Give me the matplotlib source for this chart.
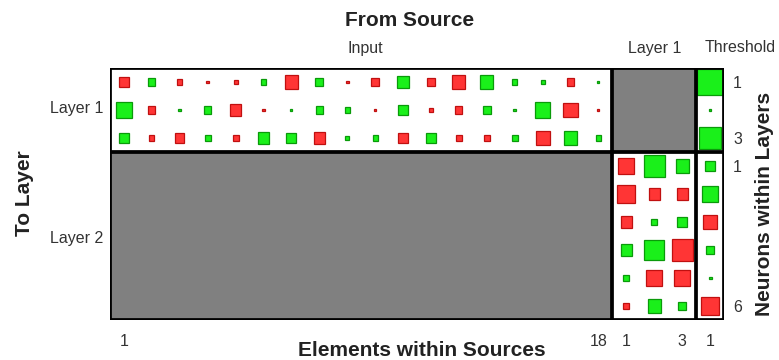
import numpy as np
import matplotlib
matplotlib.use("Agg")
import matplotlib.pyplot as plt
from matplotlib.patches import Rectangle

plt.rcParams['font.family'] = ['Liberation Sans', 'DejaVu Sans']

# Weights from the 18 inputs into the 3 neurons of layer 1
iw_layer1 = [
    [-0.48, 0.24, -0.12, -0.04, -0.08, 0.12, -0.81, 0.31, -0.04, -0.31, 0.69, -0.24, -0.81, 0.81, 0.12, 0.08, -0.24, 0.02],
    [1.08, -0.24, 0.04, 0.24, -0.58, -0.04, 0.02, 0.24, 0.12, -0.02, 0.48, -0.08, -0.24, 0.31, 0.04, 1.08, -0.94, -0.02],
    [0.48, -0.12, -0.39, 0.17, -0.17, 0.58, 0.48, -0.58, 0.08, 0.12, -0.48, 0.39, -0.17, -0.17, 0.17, -0.94, 0.81, 0.12],
]
# Biases of layer 1
b_layer1 = [3.37, 0.02, 2.32]
# Weights from layer 1 into the 6 neurons of layer 2
lw_layer2 = [
    [-1.23, 2.12, 0.81],
    [-1.56, -0.58, -0.58],
    [-0.58, 0.17, 0.48],
    [0.58, 1.92, -2.12],
    [0.17, -1.23, -1.23],
    [-0.17, 0.81, 0.31],
]
# Biases of layer 2
b_layer2 = [0.39, 1.08, -0.94, 0.31, 0.04, -1.39]

source_names = ["Input", "Layer 1", "Threshold"]
layer_names = ["Layer 1", "Layer 2"]

n_in, n1, n2 = 18, 3, 6
ncols = n_in + n1 + 1
nrows = n1 + n2

W, H = 779, 360
fig = plt.figure(figsize=(W / 100, H / 100), dpi=100)
ax_l, ax_r, ax_t, ax_b = 110, 724, 68, 320
ax = fig.add_axes([ax_l / W, 1 - ax_b / H, (ax_r - ax_l) / W, (ax_b - ax_t) / H])
ax.set_xlim(0, ncols)
ax.set_ylim(nrows, 0)
ax.axis('off')

GRAY = '#808080'
RED, RED_E = '#ff3535', '#c01010'
GRN, GRN_E = '#1af01a', '#0a9a0a'

# Absent connections are shaded gray
ax.add_patch(Rectangle((n_in, 0), n1, n1, facecolor=GRAY, edgecolor='none', zorder=1))
ax.add_patch(Rectangle((0, n1), n_in, n2, facecolor=GRAY, edgecolor='none', zorder=1))

all_w = np.concatenate([np.ravel(iw_layer1), b_layer1, np.ravel(lw_layer2), b_layer2])
wmax = np.abs(all_w).max()


def square(col, row, w):
    s = 0.96 * np.sqrt(abs(w) / wmax)
    fc, ec = (GRN, GRN_E) if w > 0 else (RED, RED_E)
    ax.add_patch(Rectangle((col + 0.5 - s / 2, row + 0.5 - s / 2), s, s,
                           facecolor=fc, edgecolor=ec, lw=0.9, zorder=2))


for r, row in enumerate(iw_layer1):
    for c, w in enumerate(row):
        square(c, r, w)
for r, w in enumerate(b_layer1):
    square(n_in + n1, r, w)
for r, row in enumerate(lw_layer2):
    for c, w in enumerate(row):
        square(n_in + c, n1 + r, w)
for r, w in enumerate(b_layer2):
    square(n_in + n1, n1 + r, w)

# Block borders
lw = 2.7
for x in (0, n_in, n_in + n1, ncols):
    ax.plot([x, x], [0, nrows], color='black', lw=lw, zorder=3, solid_capstyle='projecting')
for y in (0, n1, nrows):
    ax.plot([0, ncols], [y, y], color='black', lw=lw, zorder=3, solid_capstyle='projecting')


def ftext(x, y, s, **kw):
    fig.text(x / W, 1 - y / H, s, **kw)


# Titles and group labels
bold = dict(ha='center', va='center', fontsize=15, fontweight='bold', color='#222222')
ftext(410, 21, "From Source", **bold)
ftext(422, 351, "Elements within Sources", **bold)
ftext(25, 193, "To Layer", rotation=90, **bold)
ftext(765, 204, "Neurons within Layers", rotation=90, **bold)

lab = dict(fontsize=11.5, color='#333333', va='center')
ftext(365, 48, source_names[0], ha='center', **lab)
ftext(655, 48, source_names[1], ha='center', **lab)
ftext(740, 48, source_names[2], ha='center', **lab)
ftext(103, 109, layer_names[0], ha='right', **lab)
ftext(103, 238, layer_names[1], ha='right', **lab)

# Element index labels along the bottom
cell_w = (ax_r - ax_l) / ncols
cell_h = (ax_b - ax_t) / nrows
for col, s in [(0, "1"), (n_in - 1, "18"), (n_in, "1"), (n_in + n1 - 1, "3"), (n_in + n1, "1")]:
    ftext(ax_l + (col + 0.5) * cell_w, 341, s, ha='center', **lab)
# Neuron index labels along the right side
for row, s in [(0, "1"), (n1 - 1, "3"), (n1, "1"), (nrows - 1, "6")]:
    ftext(733, ax_t + (row + 0.5) * cell_h + 2, s, ha='left', **lab)

fig.savefig("out.png", dpi=100, facecolor='white')
